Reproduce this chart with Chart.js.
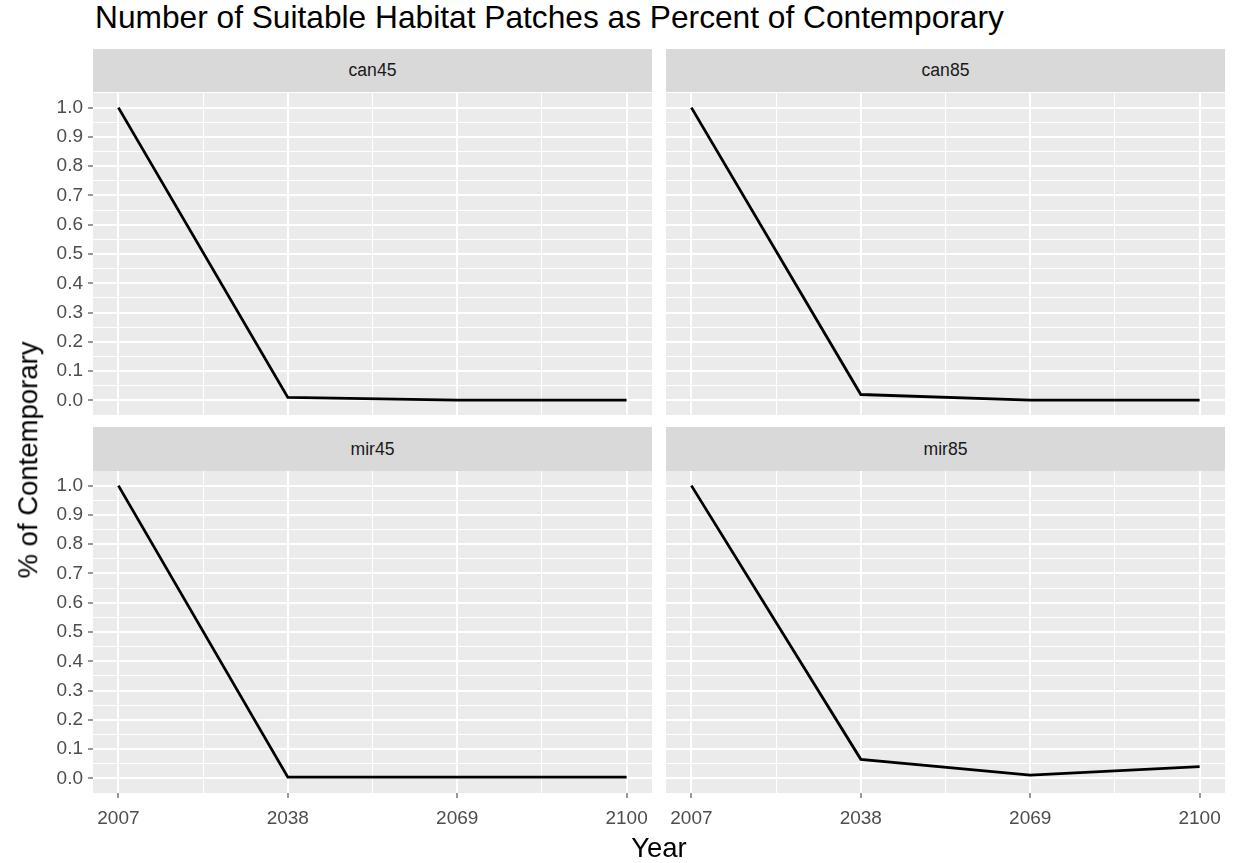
<!DOCTYPE html>
<html lang="en">
<head>
<meta charset="UTF-8">
<title>Number of Suitable Habitat Patches</title>
<script src="https://cdn.jsdelivr.net/npm/chart.js"></script>
<style>
  body { margin: 0; background: #fff; font-family: "Liberation Sans", Arial, sans-serif; }
  #wrap { position: relative; width: 1236px; height: 863px; overflow: hidden; }
  .strip {
    position: absolute; background: #d9d9d9; color: #1a1a1a; font-size: 17.6px;
    display: flex; align-items: center; justify-content: center;
  }
  canvas { position: absolute; }
  #titulo { position: absolute; left: 95px; top: 2px; font-size: 31.7px; line-height: 1; color: #000; white-space: nowrap; }
  #xlab { position: absolute; left: 93px; width: 1132px; top: 834px; text-align: center; font-size: 27.5px; line-height: 1; color: #000; }
  #ylab { position: absolute; left: 28px; top: 460px; transform: translate(-50%, -50%) rotate(-90deg); font-size: 27.5px; line-height: 1; white-space: nowrap; color: #000; }
</style>
</head>
<body>
<div id="wrap">
  <div id="titulo">Number of Suitable Habitat Patches as Percent of Contemporary</div>

  <!-- tiras de cada panel -->
  <div class="strip" id="s0" style="left:93px; top:49px; width:559px; height:43px;"></div>
  <div class="strip" id="s1" style="left:666px; top:49px; width:559px; height:43px;"></div>
  <div class="strip" id="s2" style="left:93px; top:427px; width:559px; height:44px;"></div>
  <div class="strip" id="s3" style="left:666px; top:427px; width:559px; height:44px;"></div>

  <!-- cada canvas lleva 20px de margen extra para que las etiquetas no encojan el panel -->
  <canvas id="p0" width="672" height="362" style="left:0px; top:73px; width:672px; height:362px;"></canvas>
  <canvas id="p1" width="599" height="362" style="left:646px; top:73px; width:599px; height:362px;"></canvas>
  <canvas id="p2" width="672" height="382" style="left:0px; top:451px; width:672px; height:382px;"></canvas>
  <canvas id="p3" width="599" height="382" style="left:646px; top:451px; width:599px; height:382px;"></canvas>

  <div id="xlab">Year</div>
  <div id="ylab">% of Contemporary</div>
</div>

<script>
    // Datos
    const years = [2007, 2038, 2069, 2100];
    const can45 = [1.0, 0.010, 0.001, 0.001];
    const can85 = [1.0, 0.020, 0.001, 0.001];
    const mir45 = [1.0, 0.004, 0.004, 0.004];
    const mir85 = [1.0, 0.065, 0.011, 0.040];
    const panelNames = ['can45', 'can85', 'mir45', 'mir85'];

    // Marcas (mayores y menores, como ggplot)
    const xTicks = [2007, 2022.5, 2038, 2053.5, 2069, 2084.5, 2100];
    const yTicks = [0, 0.05, 0.1, 0.15, 0.2, 0.25, 0.3, 0.35, 0.4, 0.45, 0.5,
                    0.55, 0.6, 0.65, 0.7, 0.75, 0.8, 0.85, 0.9, 0.95, 1.0];

    const fuente = '"Liberation Sans", Arial, sans-serif';
    const margen = 20; // espacio extra del canvas alrededor del panel

    const xMenor = v => v % 1 !== 0;
    const yMenor = v => Math.round(v * 100) % 10 !== 0;

    // fondo gris del panel
    const fondo = {
        id: 'fondo',
        beforeDraw(chart) {
            const a = chart.chartArea;
            const c = chart.ctx;
            c.save();
            c.fillStyle = '#ebebeb';
            c.fillRect(a.left, a.top, a.right - a.left, a.bottom - a.top);
            c.restore();
        }
    };

    function panel(id, vals, showY, showX) {
        const ctx = document.getElementById(id).getContext('2d');
        return new Chart(ctx, {
            type: 'line',
            data: {
                datasets: [{
                    data: years.map((a, i) => ({ x: a, y: vals[i] })),
                    borderColor: '#000',
                    borderWidth: 2.8,
                    pointRadius: 0,
                    tension: 0,
                    fill: false
                }]
            },
            options: {
                responsive: false,
                animation: false,
                layout: {
                    padding: {
                        top: margen,
                        bottom: showX ? 0 : margen,
                        left: showY ? 0 : margen,
                        right: margen
                    }
                },
                plugins: { legend: { display: false }, tooltip: { enabled: false } },
                scales: {
                    x: {
                        type: 'linear',
                        min: 2002.35,
                        max: 2104.65,
                        afterBuildTicks: s => { s.ticks = xTicks.map(v => ({ value: v })); },
                        afterFit: s => { s.height = showX ? 40 : 0; },
                        border: { display: false },
                        grid: {
                            color: '#fff',
                            lineWidth: c => xMenor(c.tick.value) ? 1 : 2,
                            drawTicks: showX,
                            tickLength: 5,
                            tickWidth: 1,
                            tickColor: c => xMenor(c.tick.value) ? 'rgba(0,0,0,0)' : '#333'
                        },
                        ticks: {
                            display: showX,
                            autoSkip: false,
                            maxRotation: 0,
                            color: '#4d4d4d',
                            padding: 9,
                            font: { size: 19, family: fuente },
                            callback: v => xMenor(v) ? '' : String(v)
                        }
                    },
                    y: {
                        min: -0.05,
                        max: 1.05,
                        afterBuildTicks: s => { s.ticks = yTicks.map(v => ({ value: v })); },
                        afterFit: s => { s.width = showY ? 93 : 0; },
                        border: { display: false },
                        grid: {
                            color: '#fff',
                            lineWidth: c => yMenor(c.tick.value) ? 1 : 2,
                            drawTicks: showY,
                            tickLength: 5,
                            tickWidth: 1,
                            tickColor: c => yMenor(c.tick.value) ? 'rgba(0,0,0,0)' : '#333'
                        },
                        ticks: {
                            display: showY,
                            autoSkip: false,
                            color: '#4d4d4d',
                            padding: 5,
                            font: { size: 19, family: fuente },
                            callback: v => yMenor(v) ? '' : v.toFixed(1)
                        }
                    }
                }
            },
            plugins: [fondo]
        });
    }

    panelNames.forEach((n, i) => { document.getElementById('s' + i).textContent = n; });

    panel('p0', can45, true, false);
    panel('p1', can85, false, false);
    panel('p2', mir45, true, true);
    panel('p3', mir85, false, true);
</script>
</body>
</html>
